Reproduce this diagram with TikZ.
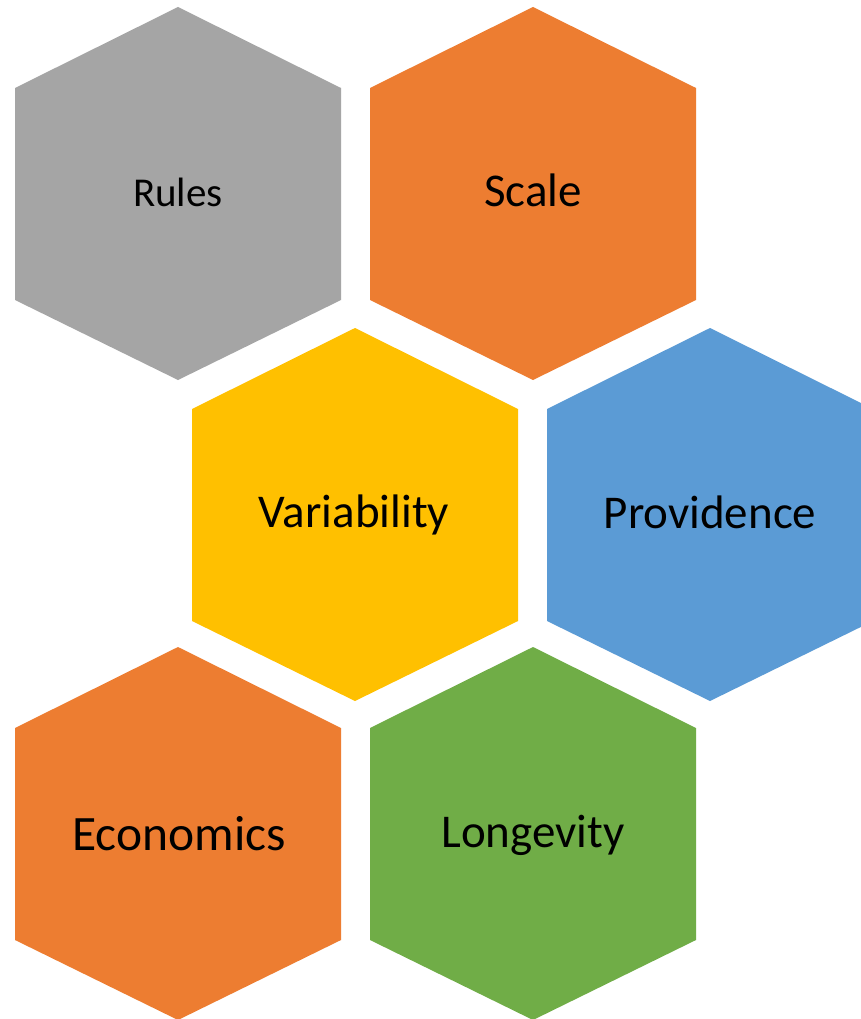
\documentclass[tikz,border=0pt]{standalone}
\usepackage{fontspec}
\setmainfont{Carlito}
\definecolor{hgray}{HTML}{A5A5A5}
\definecolor{horange}{HTML}{ED7D31}
\definecolor{hyellow}{HTML}{FFC000}
\definecolor{hblue}{HTML}{5B9BD5}
\definecolor{hgreen}{HTML}{70AD47}
\tikzset{
  hexlbl/.style={anchor=base, inner sep=0pt, text=black},
  bigtxt/.style={font=\fontsize{47}{56}\selectfont},
  ectxt/.style={font=\fontsize{49.5}{58}\selectfont},
  smalltxt/.style={font=\fontsize{41}{49}\selectfont}
}
\newcommand{\hexfill}[3]{%
  \fill[#1] (#2,#3) ++(0,-186.5) -- ++(163,81) -- ++(0,212) -- ++(-163,80) -- ++(-163,-80) -- ++(0,-212) -- cycle;}
\begin{document}
\begin{tikzpicture}[x=1pt,y=-1pt]
\useasboundingbox (0,0) rectangle (861,1019);
\clip (0,0) rectangle (861,1019);
\fill[white] (0,0) rectangle (861,1019);
\hexfill{hgray}{178}{193.5}
\hexfill{horange}{533}{193.5}
\hexfill{hyellow}{355}{514.5}
\hexfill{hblue}{710}{514.5}
\hexfill{horange}{178}{833.5}
\hexfill{hgreen}{533}{833.5}
\node[hexlbl, smalltxt] (rules) at (178,206) {Rules};
\node[hexlbl, bigtxt] (scale) at (533,206) {Scale};
\node[hexlbl, bigtxt] (variability) at (354,527) {Variability};
\node[hexlbl, bigtxt] (providence) at (710,528) {Providence};
\node[hexlbl, ectxt] (economics) at (179,850) {Economics};
\node[hexlbl, bigtxt] (longevity) at (533,847) {Longevity};
\end{tikzpicture}
\end{document}
